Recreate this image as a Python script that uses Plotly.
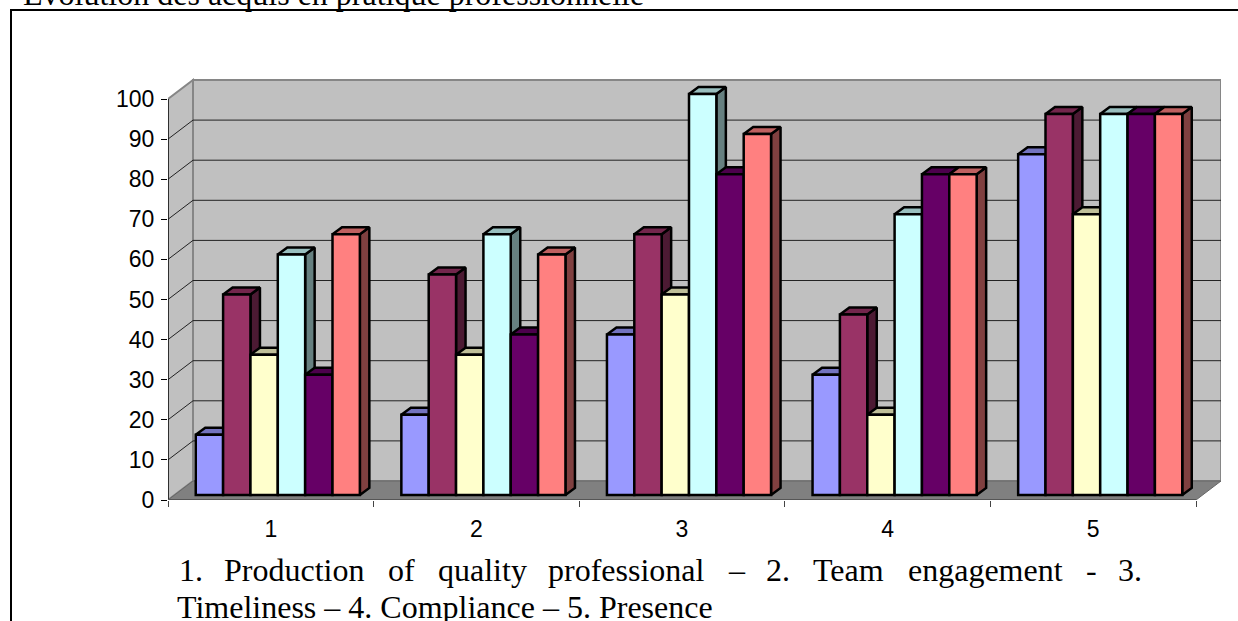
import plotly.graph_objects as go

# Assessment scores per criterion, one list per evaluation series
categories = [1, 2, 3, 4, 5]
series_a = [15, 20, 40, 30, 85]
series_b = [50, 55, 65, 45, 95]
series_c = [35, 35, 50, 20, 70]
series_d = [60, 65, 100, 70, 95]
series_e = [30, 40, 80, 80, 95]
series_f = [65, 60, 90, 80, 95]
all_series = [series_a, series_b, series_c, series_d, series_e, series_f]
colors = ["#9999FF", "#993366", "#FFFFCC", "#CCFFFF", "#660066", "#FF8080"]
y_ticks = list(range(0, 101, 10))

title_text = "Evolution des acquis en pratique professionnelle"
caption_words = [("1.", 178), ("Production", 223), ("of", 387), ("quality", 437),
                 ("professional", 547), ("–", 727), ("2.", 765), ("Team", 812),
                 ("engagement", 907), ("-", 1085), ("3.", 1117)]
caption_second = "Timeliness – 4. Compliance – 5. Presence"

# Page layout of the plotting area, in pixels
LEFT, RIGHT_EDGE, TOP, BOTTOM = 168, 1221, 78, 500
PX_PER_CAT = 205.6
PX_PER_VAL = 4.01

# Oblique projection of the box and of the bars, in axis units
WALL_DX = 25 / PX_PER_CAT
WALL_DY = 19 / PX_PER_VAL
BAR_DX = 9.5 / PX_PER_CAT
BAR_DY = 7 / PX_PER_VAL
BAR_LIFT = 1.25
BAR_SHIFT = 7 / PX_PER_CAT
BAR_W = 27.35 / PX_PER_CAT
GROUP_W = BAR_W * len(all_series)
EDGE_W = 2.5

X0, X1 = 0.5, 5.5
x_range = [X0, X1 + WALL_DX]
y_range = [0, (BOTTOM - TOP) / PX_PER_VAL]


def shade(hex_color, k):
    r, g, b = (int(hex_color[i:i + 2], 16) for i in (1, 3, 5))
    return f"rgb({r * k:.0f},{g * k:.0f},{b * k:.0f})"


def paper_x(px):
    return (px - LEFT) / (RIGHT_EDGE - LEFT)


def paper_y(py):
    return (BOTTOM - py) / (BOTTOM - TOP)


fig = go.Figure()

# Gridlines wrap from the side wall across the back wall
gx, gy = [], []
for t in y_ticks[1:-1]:
    gx += [X0, X0 + WALL_DX, X1 + WALL_DX, None]
    gy += [t, t + WALL_DY, t + WALL_DY, None]
fig.add_trace(go.Scatter(x=gx, y=gy, mode="lines", line=dict(color="#222222", width=1),
                         hoverinfo="skip", showlegend=False))

# Top and side faces sit below every front face
for i, (vals, col) in enumerate(zip(all_series, colors)):
    tx, ty, sx, sy = [], [], [], []
    for cat, v in zip(categories, vals):
        left = cat - GROUP_W / 2 + BAR_SHIFT + i * BAR_W
        right = left + BAR_W
        top = v + BAR_LIFT
        tx += [left, right, right + BAR_DX, left + BAR_DX, left, None]
        ty += [top, top, top + BAR_DY, top + BAR_DY, top, None]
        sx += [right, right + BAR_DX, right + BAR_DX, right, right, None]
        sy += [BAR_LIFT, BAR_LIFT + BAR_DY, top + BAR_DY, top, BAR_LIFT, None]
    common = dict(mode="lines", fill="toself", hoverinfo="skip", showlegend=False,
                  line=dict(color="black", width=EDGE_W))
    fig.add_trace(go.Scatter(x=sx, y=sy, fillcolor=shade(col, 0.5), **common))
    fig.add_trace(go.Scatter(x=tx, y=ty, fillcolor=shade(col, 0.75), **common))

# Left axis line and bottom axis line
fig.add_trace(go.Scatter(x=[X0, X0], y=[0, 100], mode="lines", line=dict(color="#111111", width=1.5),
                         hoverinfo="skip", showlegend=False))
fig.add_trace(go.Scatter(x=[X0, X1], y=[0, 0], mode="lines", line=dict(color="#555555", width=2),
                         hoverinfo="skip", showlegend=False, cliponaxis=False))

# Front faces on an overlaid pair of axes so that they cover the depth faces
for i, (vals, col) in enumerate(zip(all_series, colors)):
    fig.add_trace(go.Bar(
        x=categories, y=vals, base=BAR_LIFT, width=BAR_W,
        offset=-GROUP_W / 2 + BAR_SHIFT + i * BAR_W,
        marker=dict(color=col, line=dict(color="black", width=EDGE_W)),
        xaxis="x2", yaxis="y2", showlegend=False,
    ))

wall_line = dict(color="#868686", width=2)
shapes = [
    # Back wall
    dict(type="rect", x0=X0 + WALL_DX, x1=X1 + WALL_DX, y0=WALL_DY, y1=100 + WALL_DY,
         xref="x", yref="y", fillcolor="#C0C0C0", line=wall_line, layer="below"),
    # Side wall
    dict(type="path", xref="x", yref="y", fillcolor="#C0C0C0", line=wall_line, layer="below",
         path=f"M {X0} 0 L {X0 + WALL_DX} {WALL_DY} L {X0 + WALL_DX} {100 + WALL_DY} L {X0} 100 Z"),
    # Floor
    dict(type="path", xref="x", yref="y", fillcolor="#808080", line=dict(color="#666666", width=1),
         layer="below",
         path=f"M {X0} 0 L {X1} 0 L {X1 + WALL_DX} {WALL_DY} L {X0 + WALL_DX} {WALL_DY} Z"),
    # Page frame, open on the right and at the bottom
    dict(type="line", xref="paper", yref="paper", x0=paper_x(10), x1=paper_x(1240),
         y0=paper_y(10), y1=paper_y(10), line=dict(color="black", width=2)),
    dict(type="line", xref="paper", yref="paper", x0=paper_x(11), x1=paper_x(11),
         y0=paper_y(10), y1=paper_y(625), line=dict(color="black", width=2)),
]

serif = dict(family="Liberation Serif", size=32, color="black")
annotations = [
    dict(text=title_text, xref="paper", yref="paper", x=paper_x(22), y=paper_y(13),
         xanchor="left", yanchor="bottom", showarrow=False, font=serif,
         borderpad=0, align="left"),
    dict(text=caption_second, xref="paper", yref="paper", x=paper_x(176), y=paper_y(626),
         xanchor="left", yanchor="bottom", showarrow=False, font=serif, borderpad=0),
]
for word, px in caption_words:
    annotations.append(dict(text=word, xref="paper", yref="paper", x=paper_x(px), y=paper_y(589),
                            xanchor="left", yanchor="bottom", showarrow=False, font=serif,
                            borderpad=0))

sans = dict(family="Liberation Sans", size=23, color="black")
boundaries = [X0 + k for k in range(len(categories) + 1)]
fig.update_layout(
    width=1238, height=621,
    margin=dict(l=LEFT, r=1238 - RIGHT_EDGE, t=TOP, b=621 - BOTTOM, autoexpand=False),
    paper_bgcolor="white", plot_bgcolor="white",
    showlegend=False, barmode="overlay",
    shapes=shapes, annotations=annotations,
    xaxis=dict(range=x_range, tickmode="array", tickvals=categories, ticktext=[str(c) for c in categories],
               ticks="", showgrid=False, zeroline=False, showline=False, tickfont=sans,
               ticklabelstandoff=13,
               minor=dict(tickmode="array", tickvals=boundaries, ticks="outside", ticklen=6,
                          tickcolor="#444444", tickwidth=1, showgrid=False)),
    yaxis=dict(range=y_range, tickmode="array", tickvals=y_ticks, ticks="outside", ticklen=6,
               tickcolor="black", tickwidth=1, showgrid=False, zeroline=False, showline=False,
               tickfont=sans, ticklabelstandoff=2),
    xaxis2=dict(range=x_range, overlaying="x", visible=False),
    yaxis2=dict(range=y_range, overlaying="y", visible=False),
)

fig.write_html("out.html")
